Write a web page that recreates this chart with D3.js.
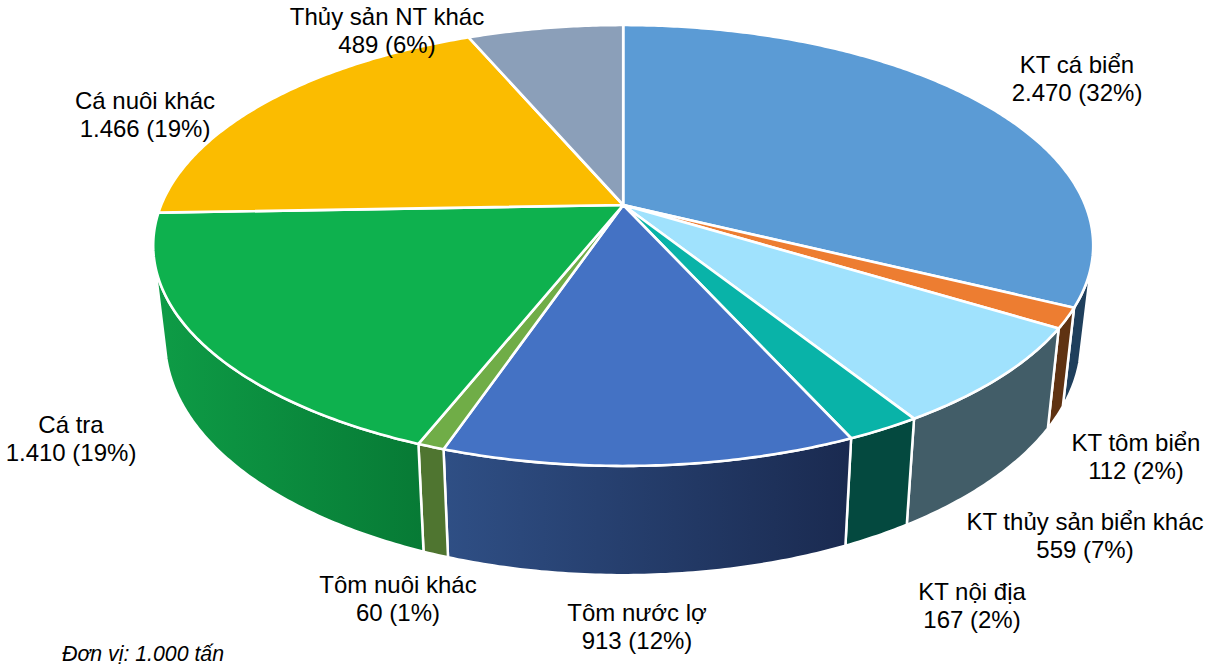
<!DOCTYPE html>
<html>
<head>
<meta charset="utf-8">
<script src="https://cdn.jsdelivr.net/npm/d3@7"></script>
<style>
    html, body { margin: 0; padding: 0; background: #fff; }
    svg { display: block; }
    text { font-family: "Liberation Sans", Arial, sans-serif; fill: #000; }
</style>
</head>
<body>
<div id="chart"></div>
<script>
var categories = ["KT cá biển", "KT tôm biển", "KT thủy sản biển khác", "KT nội địa", "Tôm nước lợ", "Tôm nuôi khác", "Cá tra", "Cá nuôi khác", "Thủy sản NT khác"]
var values = [2470, 112, 559, 167, 913, 60, 1410, 1466, 489]
var percents = ["32%", "2%", "7%", "2%", "12%", "1%", "19%", "19%", "6%"]
var unitNote = "Đơn vị: 1.000 tấn"

var topColors = ["#5b9bd5", "#ed7d31", "#a0e2fd", "#09b3a8", "#4472c4", "#70ad47", "#0eb14e", "#fbbc00", "#8b9fb9"]
var wallLeft = ["#1f3f5c", "#5f3212", "#425d68", "#04493f", "#2f4f85", "#4f7530", "#0e9c46", "#fbbc00", "#8b9fb9"]
var wallRight = ["#1f3f5c", "#5f3212", "#425d68", "#04493f", "#1a2a50", "#4f7530", "#077a35", "#fbbc00", "#8b9fb9"]

// label centre x and first baseline, same order as categories
var labelX = [1077, 1136, 1085, 972, 637, 398, 71, 145, 387]
var labelY = [73, 451, 530, 600, 621, 593, 433, 109, 25]

var width = 1220,
    height = 666

var svg = d3.select("#chart")
    .append("svg")
    .attr("width", width)
    .attr("height", height)

var defs = svg.append("defs")

// tilted pie: the circle goes through a small perspective, so the apex is not the ellipse centre
var apexX = 623.2, apexY = 205, radiusX = 462, radiusY = 213, tilt = 0.1837

function topPoint(a) {
    var w = 1 - tilt * (-Math.cos(a))
    return [apexX + radiusX * Math.sin(a) / w, apexY + radiusY * (-Math.cos(a)) / w]
}

// floor of the cylinder, derived from the top face
function bottomPoint(a) {
    var p = topPoint(a)
    return [apexX + (p[0] - apexX) * 0.975, 297 + (p[1] - apexY) * 1.066]
}

function arcAngles(a0, a1) {
    var n = Math.max(2, Math.ceil((a1 - a0) / 0.01))
    return d3.range(n + 1).map(function (i) { return a0 + (a1 - a0) * i / n })
}

var line = d3.line()

var pie = d3.pie().sort(null)
var slices = pie(values)

// only this part of the side is visible
var wallStart = 106 * Math.PI / 180,
    wallEnd = 255 * Math.PI / 180

var walls = svg.append("g")
slices.forEach(function (d, i) {
    var a0 = Math.max(d.startAngle, wallStart),
        a1 = Math.min(d.endAngle, wallEnd)
    if (a0 >= a1) return

    var gradId = "wall" + i
    var grad = defs.append("linearGradient").attr("id", gradId)
    grad.append("stop").attr("offset", "0%").attr("stop-color", wallLeft[i])
    grad.append("stop").attr("offset", "100%").attr("stop-color", wallRight[i])

    var angles = arcAngles(a0, a1)
    var pts = angles.map(topPoint).concat(angles.slice().reverse().map(bottomPoint))
    walls.append("path")
        .attr("d", line(pts) + "Z")
        .attr("fill", "url(#" + gradId + ")")
        .attr("stroke", "#fff")
        .attr("stroke-width", 2.5)
        .attr("stroke-linejoin", "round")
})

svg.append("g").selectAll("path")
    .data(slices)
    .enter().append("path")
    .attr("d", function (d) {
        var pts = [[apexX, apexY]].concat(arcAngles(d.startAngle, d.endAngle).map(topPoint))
        return line(pts) + "Z"
    })
    .attr("fill", function (d, i) { return topColors[i] })
    .attr("stroke", "#fff")
    .attr("stroke-width", 2.6)
    .attr("stroke-linejoin", "round")

var fmt = d3.formatLocale({ decimal: ",", thousands: ".", grouping: [3], currency: ["", ""] }).format(",d")

var labels = svg.append("g").selectAll("text")
    .data(categories)
    .enter().append("text")
    .attr("text-anchor", "middle")
    .style("font-size", "24px")

labels.append("tspan")
    .attr("x", function (d, i) { return labelX[i] })
    .attr("y", function (d, i) { return labelY[i] })
    .text(function (d) { return d })

labels.append("tspan")
    .attr("x", function (d, i) { return labelX[i] })
    .attr("y", function (d, i) { return labelY[i] + 28 })
    .text(function (d, i) { return fmt(values[i]) + " (" + percents[i] + ")" })

svg.append("text")
    .attr("x", 62)
    .attr("y", 661)
    .style("font-size", "21.3px")
    .style("font-style", "italic")
    .text(unitNote)
</script>
</body>
</html>
